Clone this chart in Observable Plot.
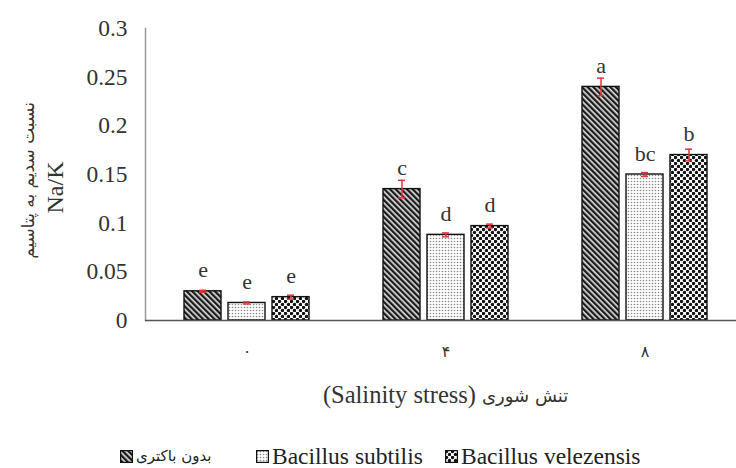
<!DOCTYPE html>
<html><head><meta charset="utf-8">
<script src="https://cdn.jsdelivr.net/npm/d3@7"></script>
<script src="https://cdn.jsdelivr.net/npm/@observablehq/plot@0.6"></script>
<style>
body{margin:0;background:#fff;}
#wrap{position:relative;width:736px;height:468px;overflow:hidden;}
.leg{position:absolute;top:445px;height:22px;line-height:22px;display:flex;align-items:center;font-family:"Liberation Serif",serif;font-size:23.5px;color:#222;white-space:nowrap;}
.leg svg{margin-right:3px;}
.fa{font-family:"DejaVu Sans",sans-serif;font-size:15px;}
</style></head><body><div id="wrap"></div>
<script>
const groups = ["۰", "۴", "۸"];
const seriesNames = ["بدون باکتری", "Bacillus subtilis", "Bacillus velezensis"];
const control = [0.030, 0.135, 0.240];
const subtilis = [0.018, 0.088, 0.150];
const velezensis = [0.024, 0.097, 0.170];
const errControl = [0.001, 0.009, 0.009];
const errSubtilis = [0.001, 0.002, 0.002];
const errVelezensis = [0.002, 0.002, 0.006];
const lettersControl = ["e", "c", "a"];
const lettersSubtilis = ["e", "d", "bc"];
const lettersVelezensis = ["e", "d", "b"];
const yTicks = [0, 0.05, 0.1, 0.15, 0.2, 0.25, 0.3];
const yTitleFa = "نسبت سدیم به پتاسیم";
const yTitleEn = "Na/K";
const xTitleEn = "(Salinity stress)";
const xTitleFa = "تنش شوری";

const values = [control, subtilis, velezensis];
const errs = [errControl, errSubtilis, errVelezensis];
const letters = [lettersControl, lettersSubtilis, lettersVelezensis];
const tables = values.map((vals, i) => groups.map((g, j) => ({g, v: vals[j], e: errs[i][j], l: letters[i][j], s: seriesNames[i]})));
const offsets = [-44, 0, 44];
const red = "#e3343c";
const serif = "Liberation Serif";
const fa = "DejaVu Sans";

const marks = [
  Plot.frame({anchor: "left", stroke: "#999", strokeWidth: 1.5}),
  Plot.axisY({ticks: yTicks, tickSize: 0, tickPadding: 18, fontSize: 23.5, fontFamily: serif, tickFormat: d => String(+d.toFixed(2)), label: null, color: "#333"}),
  Plot.axisX({tickSize: 0, tickPadding: 25, fontSize: 16, fontFamily: fa, label: null, color: "#333"}),
  Plot.text([yTitleFa], {frameAnchor: "left", textAnchor: "middle", lineAnchor: "middle", rotate: -90, dx: -117, dy: 6, fontSize: 17, fontFamily: fa, fill: "#333"}),
  Plot.text([yTitleEn], {frameAnchor: "left", textAnchor: "middle", lineAnchor: "middle", rotate: -90, dx: -90, dy: 13, fontSize: 24, fontFamily: serif, fill: "#333"}),
  Plot.text([xTitleEn], {frameAnchor: "bottom", textAnchor: "end", lineAnchor: "middle", dx: 35, dy: 75, fontSize: 24.5, fontFamily: serif, fill: "#333"}),
  Plot.text([xTitleFa], {frameAnchor: "bottom", textAnchor: "start", lineAnchor: "middle", dx: 41, dy: 76, fontSize: 18, fontFamily: fa, fill: "#333"})
];
tables.forEach((rows, i) => {
  const dx = offsets[i];
  marks.push(
    Plot.barY(rows, {x: "g", y: "v", fill: `url(#pat${i})`, stroke: "#111", strokeWidth: 1.4, dx}),
    Plot.ruleX(rows, {x: "g", y1: d => d.v - d.e, y2: d => d.v + d.e, stroke: red, strokeWidth: 1.5, dx}),
    Plot.tickY(rows, {x: "g", y: d => d.v + d.e, stroke: red, strokeWidth: 1.5, inset: 15, dx}),
    Plot.tickY(rows, {x: "g", y: d => d.v - d.e, stroke: red, strokeWidth: 1.5, inset: 15, dx}),
    Plot.text(rows, {x: "g", y: "v", text: "l", dx, dy: -21, fontSize: 22, fontFamily: serif, fill: "#333"})
  );
});
marks.push(Plot.ruleY([0], {stroke: "#555", strokeWidth: 1.6}));

const svg = Plot.plot({
  width: 736, height: 440,
  marginLeft: 145, marginRight: 0, marginTop: 28, marginBottom: 120,
  style: {background: "#fff", overflow: "visible"},
  x: {type: "band", domain: groups, range: [146, 744], paddingInner: 0.815, paddingOuter: 0.4075, axis: null},
  y: {domain: [0, 0.3], axis: null},
  marks
});

const defs = d3.select(svg).insert("defs", ":first-child");
const p0 = defs.append("pattern").attr("id", "pat0").attr("width", 4).attr("height", 4).attr("patternUnits", "userSpaceOnUse").attr("patternTransform", "rotate(-45)");
p0.append("rect").attr("width", 4).attr("height", 4).attr("fill", "#ddd");
p0.append("rect").attr("width", 2.3).attr("height", 4).attr("fill", "#1a1a1a");
const p1 = defs.append("pattern").attr("id", "pat1").attr("width", 3).attr("height", 3).attr("patternUnits", "userSpaceOnUse");
p1.append("rect").attr("width", 3).attr("height", 3).attr("fill", "#fff");
p1.append("circle").attr("cx", 1.5).attr("cy", 1.5).attr("r", 0.8).attr("fill", "#888");
const p2 = defs.append("pattern").attr("id", "pat2").attr("width", 6).attr("height", 6).attr("patternUnits", "userSpaceOnUse");
p2.append("rect").attr("width", 6).attr("height", 6).attr("fill", "#fff");
p2.append("circle").attr("cx", 1.5).attr("cy", 1.5).attr("r", 1.7).attr("fill", "#111");
p2.append("circle").attr("cx", 4.5).attr("cy", 4.5).attr("r", 1.7).attr("fill", "#111");

const wrap = document.getElementById("wrap");
wrap.appendChild(svg);
const legLeft = [120, 256, 445];
seriesNames.forEach((name, i) => {
  const item = document.createElement("div");
  item.className = "leg";
  item.style.left = legLeft[i] + "px";
  item.innerHTML = `<svg width="13" height="13"><rect x="0.6" y="0.6" width="11.8" height="11.8" fill="url(#pat${i})" stroke="#111" stroke-width="1.2"/></svg><span class="${i === 0 ? "fa" : ""}">${name}</span>`;
  wrap.appendChild(item);
});
</script></body></html>
